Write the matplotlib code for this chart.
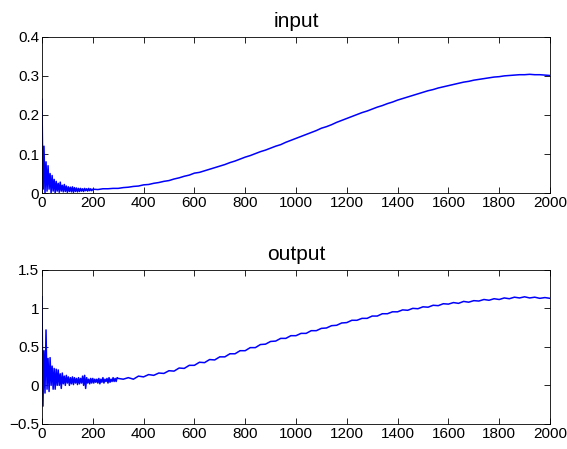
import matplotlib.pyplot as plt

# sample index for the noisy start (every 4 samples) and the smooth rest (every 20)
in_x_start = list(range(0, 200, 4))
in_y_start = [0.24, 0.01, 0.12, 0.0, 0.08, 0.005, 0.07, 0.01, 0.05, 0.0,
              0.045, 0.005, 0.035, 0.0, 0.03, 0.005, 0.025, 0.002, 0.028, 0.005,
              0.02, 0.003, 0.022, 0.004, 0.018, 0.002, 0.016, 0.004, 0.015, 0.003,
              0.016, 0.002, 0.014, 0.004, 0.013, 0.003, 0.012, 0.004, 0.012, 0.005,
              0.011, 0.004, 0.012, 0.006, 0.011, 0.005, 0.012, 0.006, 0.011, 0.006]
in_x_rest = list(range(200, 2001, 20))
in_y_rest = [0.010, 0.009, 0.011, 0.011, 0.012, 0.012, 0.014, 0.015, 0.017, 0.018,
             0.021, 0.022, 0.025, 0.027, 0.030, 0.032, 0.036, 0.039, 0.043, 0.046,
             0.051, 0.053, 0.057, 0.061, 0.065, 0.069, 0.073, 0.078, 0.082, 0.087,
             0.092, 0.096, 0.101, 0.106, 0.110, 0.115, 0.120, 0.124, 0.130, 0.135,
             0.140, 0.145, 0.150, 0.155, 0.160, 0.166, 0.170, 0.175, 0.181, 0.186,
             0.191, 0.196, 0.201, 0.206, 0.210, 0.215, 0.220, 0.224, 0.229, 0.233,
             0.238, 0.242, 0.246, 0.250, 0.254, 0.258, 0.262, 0.265, 0.269, 0.272,
             0.275, 0.278, 0.281, 0.284, 0.286, 0.289, 0.291, 0.293, 0.295, 0.297,
             0.298, 0.300, 0.301, 0.302, 0.303, 0.303, 0.304, 0.303, 0.303, 0.302,
             0.301]

out_x_start = list(range(0, 300, 4))
out_y_start = [1.15, -0.27, 0.45, -0.1, 0.72, -0.05, 0.35, -0.08, 0.36, 0.0,
               0.25, -0.05, 0.22, -0.05, 0.21, 0.0, 0.2, 0.0, 0.15, -0.04,
               0.16, 0.02, 0.12, 0.0, 0.13, 0.03, 0.11, 0.0, 0.1, 0.02,
               0.11, 0.01, 0.1, 0.03, 0.09, 0.01, 0.1, 0.02, 0.09, 0.03,
               0.12, 0.0, 0.13, -0.04, 0.1, 0.03, 0.08, 0.02, 0.09, 0.03,
               0.09, 0.03, 0.08, 0.04, 0.08, 0.03, 0.09, 0.02, 0.08, 0.04,
               0.1, 0.03, 0.08, 0.05, 0.09, 0.03, 0.1, 0.04, 0.08, 0.05,
               0.1, 0.05, 0.09, 0.05, 0.1]
out_x_rest = list(range(300, 2001, 20))
out_y_rest = [0.09, 0.08, 0.10, 0.08, 0.12, 0.11, 0.14, 0.13, 0.16, 0.155,
              0.19, 0.185, 0.225, 0.22, 0.26, 0.26, 0.30, 0.295, 0.335, 0.33,
              0.37, 0.37, 0.41, 0.41, 0.45, 0.45, 0.49, 0.49, 0.53, 0.535,
              0.57, 0.575, 0.61, 0.61, 0.645, 0.645, 0.675, 0.675, 0.71, 0.71,
              0.74, 0.745, 0.775, 0.78, 0.81, 0.815, 0.845, 0.845, 0.87, 0.87,
              0.90, 0.90, 0.93, 0.93, 0.955, 0.955, 0.98, 0.975, 1.00, 0.995,
              1.02, 1.015, 1.04, 1.035, 1.06, 1.055, 1.075, 1.065, 1.09, 1.08,
              1.10, 1.095, 1.115, 1.105, 1.125, 1.115, 1.135, 1.125, 1.145, 1.135,
              1.15, 1.135, 1.145, 1.13, 1.14, 1.13]

x_ticks = list(range(0, 2001, 200))

plt.rcParams['font.family'] = ['Liberation Sans', 'DejaVu Sans']
plt.rcParams['font.size'] = 11

fig = plt.figure(figsize=(5.67, 4.49), dpi=100)
ax1 = fig.add_axes([0.074, 0.570, 0.896, 0.348])
ax2 = fig.add_axes([0.074, 0.056, 0.896, 0.343])

ax1.plot(in_x_start + in_x_rest, in_y_start + in_y_rest, color='#0000ff', lw=1.1)
ax1.set_xlim(0, 2000)
ax1.set_ylim(0, 0.4)
ax1.set_yticks([0, 0.1, 0.2, 0.3, 0.4])
ax1.set_yticklabels(['0', '0.1', '0.2', '0.3', '0.4'])
ax1.set_title('input', fontsize=15, pad=7)

ax2.plot(out_x_start + out_x_rest, out_y_start + out_y_rest, color='#0000ff', lw=1.1)
ax2.set_xlim(0, 2000)
ax2.set_ylim(-0.5, 1.5)
ax2.set_yticks([-0.5, 0, 0.5, 1, 1.5])
ax2.set_yticklabels(['\u22120.5', '0', '0.5', '1', '1.5'])
ax2.set_title('output', fontsize=15, pad=7)

for ax in (ax1, ax2):
    ax.set_xticks(x_ticks)
    ax.tick_params(direction='in', top=True, right=True, length=4, width=0.6, pad=2)
    for s in ax.spines.values():
        s.set_linewidth(0.6)

fig.savefig('out.png', dpi=100)
